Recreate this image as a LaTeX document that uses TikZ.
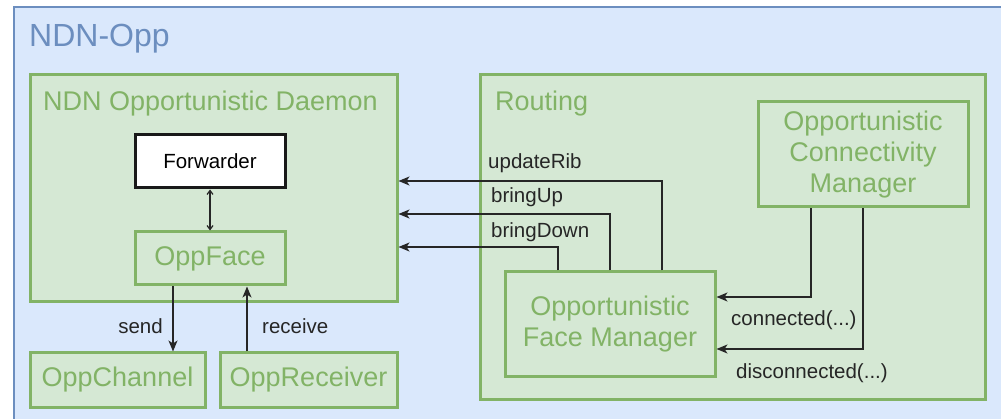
\documentclass[tikz,border=0pt]{standalone}
\usepackage{fontspec}
\setmainfont{Liberation Sans}
\usetikzlibrary{arrows.meta}
\definecolor{bfill}{HTML}{DAE8FC}
\definecolor{bline}{HTML}{6C8EBF}
\definecolor{gfill}{HTML}{D5E8D4}
\definecolor{gline}{HTML}{82B366}
\begin{document}
\begin{tikzpicture}[x=1pt,y=-1pt,
  gbox/.style={draw=gline,fill=gfill,line width=3pt,rectangle,inner sep=0pt,text=gline,
     font=\fontsize{27}{31}\selectfont,align=center},
  gtitle/.style={text=gline,font=\fontsize{27}{31}\selectfont,anchor=west,inner sep=0pt},
  lbl/.style={font=\fontsize{20.5}{24}\selectfont,inner sep=0pt,text=black!85},
  arr/.style={draw=black!85,line width=1.5pt,-{Stealth[length=11pt,width=9pt,inset=3pt]}},
  darr/.style={draw=black!85,line width=1.2pt,{Straight Barb[length=4pt,width=6pt]}-{Straight Barb[length=4pt,width=6pt]}}
]
\useasboundingbox (0,0) rectangle (1001,419);
\node[draw=bline,fill=bfill,line width=2.4pt,rectangle,inner sep=0pt,minimum width=1010pt,minimum height=440pt,anchor=north west] (outer) at (13,6) {};
\node[text=bline,font=\fontsize{32}{36}\selectfont,anchor=west,inner sep=0pt] (ttl) at (29,39) {NDN-Opp};
% daemon
\node[gbox,minimum width=367pt,minimum height=227pt] (daemon) at (213.5,188.5) {};
\node[gtitle] (dtitle) at (43,104) {NDN Opportunistic Daemon};
\node[draw=black!90,fill=white,line width=3pt,rectangle,inner sep=0pt,minimum width=150pt,minimum height=53pt,font=\fontsize{20.5}{24}\selectfont] (fwd) at (210,161.5) {Forwarder};
\node[gbox,minimum width=150pt,minimum height=53pt] (face) at (210,258.5) {OppFace};
\node[gbox,minimum width=175pt,minimum height=54pt] (chan) at (117.5,380) {OppChannel};
\node[gbox,minimum width=177pt,minimum height=54pt] (recv) at (308.5,380) {OppReceiver};
% routing
\node[gbox,minimum width=505pt,minimum height=324pt] (routing) at (732.5,237) {};
\node[gtitle] (rtitle) at (495,104) {Routing};
\node[gbox,minimum width=210pt,minimum height=105pt] (ocm) at (863,154.5) {Opportunistic\\Connectivity\\Manager};
\node[gbox,minimum width=210pt,minimum height=105pt] (fm) at (610,324.5) {Opportunistic\\Face Manager};
% connectors
\draw[darr] (fwd.south) -- (face.north);
\draw[arr] ([xshift=-37pt]face.south) -- ([xshift=-37pt]face.south |- chan.north);
\draw[arr] ([xshift=37pt]face.south |- recv.north) -- ([xshift=37pt]face.south);
\draw[arr] ([xshift=52pt]fm.north) |- ([yshift=7.5pt]daemon.east);
\draw[arr] (fm.north) |- ([yshift=-25.5pt]daemon.east);
\draw[arr] ([xshift=-52pt]fm.north) |- ([yshift=-58.5pt]daemon.east);
\draw[arr] ([xshift=-52pt]ocm.south) |- ([yshift=27.5pt]fm.east);
\draw[arr] (ocm.south) |- ([yshift=-24.5pt]fm.east);
% labels
\node[lbl,anchor=east] (lsend) at (163,326) {send};
\node[lbl,anchor=west] (lrecv) at (262,326) {receive};
\node[lbl,anchor=west] (lupd) at (488,163) {updateRib};
\node[lbl,anchor=west] (lup) at (491,197) {bringUp};
\node[lbl,anchor=west] (ldown) at (491,232) {bringDown};
\node[lbl,anchor=west] (lcon) at (731,320) {connected(...)};
\node[lbl,anchor=west] (ldis) at (736,373) {disconnected(...)};
\end{tikzpicture}
\end{document}
